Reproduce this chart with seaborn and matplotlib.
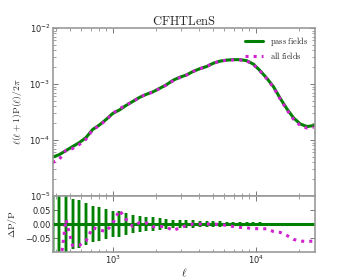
import numpy as np
import pandas as pd
import matplotlib
matplotlib.use("Agg")
import matplotlib.pyplot as plt
import seaborn as sns

# multipole bins (log-spaced)
ell = [378, 421, 469, 522, 582, 648, 722, 804, 896, 998,
       1112, 1239, 1380, 1538, 1713, 1909, 2126, 2368, 2638, 2939,
       3274, 3648, 4064, 4527, 5044, 5619, 6259, 6972, 7767, 8653,
       9639, 10738, 11963, 13327, 14846, 16539, 18424, 20525, 22865, 25472]

# l(l+1)P(l)/2pi for the pass fields
p_pass = [4.93e-5, 5.47e-5, 6.45e-5, 7.62e-5, 8.98e-5, 1.10e-4, 1.54e-4, 1.85e-4, 2.32e-4, 2.98e-4,
          3.44e-4, 4.15e-4, 4.89e-4, 5.77e-4, 6.53e-4, 7.24e-4, 8.37e-4, 9.68e-4, 1.165e-3, 1.318e-3,
          1.452e-3, 1.676e-3, 1.875e-3, 2.05e-3, 2.35e-3, 2.56e-3, 2.67e-3, 2.72e-3, 2.72e-3, 2.61e-3,
          2.26e-3, 1.726e-3, 1.265e-3, 8.91e-4, 5.53e-4, 3.59e-4, 2.47e-4, 1.93e-4, 1.74e-4, 1.81e-4]

# relative difference all fields vs pass fields
ratio_all = [-0.20, -0.18, 0.016, -0.077, -0.076, -0.061, -0.0125, -0.021, -0.027, 0.002,
             0.049, 0.016, -0.009, 0.005, 0.004, -0.010, -0.008, -0.011, -0.023, -0.014,
             -0.005, 0.0, 0.0, 0.0, 0.0, -0.002, -0.005, -0.009, -0.012, -0.014,
             -0.016, -0.017, -0.017, -0.027, -0.030, -0.041, -0.055, -0.061, -0.0625, -0.061]

# error on the pass-fields ratio
err_pass = [0.12, 0.11, 0.10, 0.089, 0.087, 0.074, 0.065, 0.060, 0.054, 0.048,
            0.045, 0.039, 0.033, 0.030, 0.026, 0.024, 0.021, 0.018, 0.015, 0.014,
            0.014, 0.013, 0.012, 0.011, 0.010, 0.009, 0.008, 0.007, 0.007, 0.006,
            0.006, 0.006, 0.005, 0.005, 0.005, 0.005, 0.005, 0.005, 0.005, 0.005]

df = pd.DataFrame({"ell": ell, "pass": p_pass, "ratio": ratio_all, "err": err_pass})
df["all"] = df["pass"] * (1 + df["ratio"])
df["zero"] = 0.0

green = "#008000"
magenta = "#d020d0"

sns.set_style("ticks")
plt.rcParams["mathtext.fontset"] = "cm"
plt.rcParams["font.family"] = ["DejaVu Sans"]
plt.rcParams["xtick.direction"] = "in"
plt.rcParams["ytick.direction"] = "in"

fig = plt.figure(figsize=(3.5, 2.8), dpi=100)
ax1 = fig.add_axes([0.15, 0.30, 0.75, 0.60])
ax2 = fig.add_axes([0.15, 0.10, 0.75, 0.20], sharex=ax1)

sns.lineplot(data=df, x="ell", y="pass", ax=ax1, color=green, lw=2.2,
             label=r"$\mathrm{pass\ fields}$")
sns.lineplot(data=df, x="ell", y="all", ax=ax1, color=magenta, lw=2.2,
             linestyle=":", label=r"$\mathrm{all\ fields}$")
ax1.set_xscale("log")
ax1.set_yscale("log")
ax1.set_xlim(378, 26000)
ax1.set_ylim(1e-5, 1e-2)
ax1.set_xlabel("")
ax1.set_ylabel(r"$\ell(\ell+1)\mathrm{P}(\ell)/2\pi$", fontsize=7)
ax1.set_title(r"$\mathrm{CFHTLenS}$", fontsize=9, pad=2)
ax1.tick_params(labelbottom=False)
leg = ax1.legend(loc="upper right", frameon=False, fontsize=6, handlelength=2.2,
                 borderaxespad=0.4, labelspacing=0.3)

# ratio panel
ax2.vlines(df["ell"], -df["err"], df["err"], color=green, lw=2.8, alpha=0.45)
ax2.vlines(df["ell"], -df["err"], df["err"], color=green, lw=1.4)
sns.lineplot(data=df, x="ell", y="zero", ax=ax2, color=green, lw=2.2)
sns.lineplot(data=df, x="ell", y="ratio", ax=ax2, color=magenta, lw=2.2, linestyle=":")
ax2.set_ylim(-0.1, 0.1)
ax2.set_yticks([-0.05, 0.0, 0.05])
ax2.set_yticklabels(["\u22120.05", "0.00", "0.05"])
ax2.set_xlabel(r"$\ell$", fontsize=8, labelpad=0)
ax2.set_ylabel(r"$\Delta\mathrm{P}/\mathrm{P}$", fontsize=7)

for ax in (ax1, ax2):
    for s in ax.spines.values():
        s.set_color("#999999")
        s.set_linewidth(1.2)
    ax.tick_params(which="both", top=True, right=True, labelsize=6, color="#777777", pad=1.5)
    ax.tick_params(which="major", length=3.5, width=0.7)
    ax.tick_params(which="minor", length=2, width=0.5)

fig.savefig("out.png", dpi=100)
